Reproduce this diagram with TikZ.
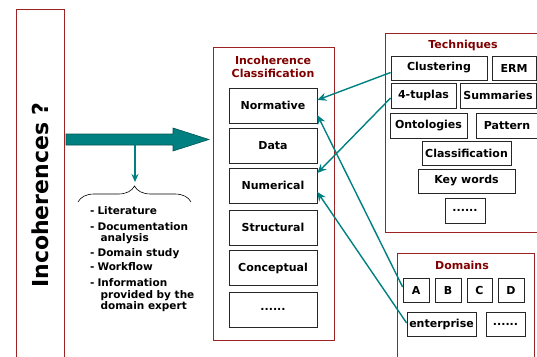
\documentclass[tikz,border=0pt]{standalone}
\usepackage{fontspec}
\setmainfont{DejaVu Sans}
\usetikzlibrary{decorations.pathreplacing,arrows.meta,calc}
\definecolor{framered}{RGB}{155,35,35}
\definecolor{titlered}{RGB}{128,0,0}
\definecolor{tealc}{RGB}{0,128,128}
\definecolor{tealdark}{RGB}{0,85,85}
\begin{document}
\begin{tikzpicture}[x=1pt,y=-1pt,
  frame/.style={draw=framered, line width=1pt, inner sep=0pt},
  box/.style={draw=black!85, line width=0.75pt, inner sep=0pt, font=\bfseries\fontsize{11}{13}\selectfont},
  ttl/.style={text=titlered, font=\bfseries\fontsize{11}{13}\selectfont, align=center, inner sep=0pt},
  conn/.style={tealc, line width=1.4pt, -{Stealth[length=9pt,width=8pt]}}]
\useasboundingbox (0,0) rectangle (537,356);
\clip (0,0) rectangle (537,356);

% left box
\node[frame, minimum width=48pt, minimum height=380pt, anchor=north west] (leftbox) at (16,9) {};
\node[rotate=90, font=\bfseries\fontsize{22}{26}\selectfont, inner sep=0pt] (incq) at (40,195) {Incoherences ?};

% big arrow
\coordinate (bigtail) at (66,139.5);
\coordinate (bigtip) at (209,139.5);
\draw[draw=tealdark, fill=tealc, line width=0.6pt]
  ([yshift=5.5pt]bigtail) -- ++(107,0) -- ++(0,-6) -- (bigtip) -- ++(-36,11.5) -- ++(0,-6) -- ([yshift=-5.5pt]bigtail) -- cycle;
\coordinate (arrowfoot) at (135,145);
\coordinate (bracetip) at (135,182);
\draw[tealc, line width=1.4pt, -{Stealth[length=8pt,width=7pt]}] (arrowfoot) -- (bracetip);

% brace and sources
\draw[decorate, decoration={brace, amplitude=16pt}, line width=0.6pt] (78,202) -- (191,202);
\node[anchor=base west, font=\bfseries\fontsize{10.5}{11}\selectfont, inner sep=0pt] (sources) at (90,214.5)
 {\begin{tabular}[t]{@{}l@{\hspace{3pt}}l@{}}
  -&Literature\\[4.5pt]
  -&Documentation\\
   &\hspace{3pt}analysis\\[4pt]
  -&Domain study\\[2.5pt]
  -&Workflow\\[5pt]
  -&Information\\
   &\hspace{3pt}provided by the\\
   &\hspace{3pt}domain expert
 \end{tabular}};

% classification
\node[frame, minimum width=121pt, minimum height=293pt, anchor=north west] (classframe) at (212.5,47) {};
\node[ttl] (classtitle) at (273,67) {Incoherence\\Classification};
\node[box, minimum width=88pt, minimum height=35pt] (normative) at (273,105.5) {Normative};
\node[box, minimum width=88pt, minimum height=35pt] (data) at (273,145.5) {Data};
\node[box, minimum width=88pt, minimum height=35pt] (numerical) at (273,185.5) {Numerical};
\node[box, minimum width=88pt, minimum height=35pt] (structural) at (273,227.5) {Structural};
\node[box, minimum width=88pt, minimum height=35pt] (conceptual) at (273,268) {Conceptual};
\node[box, minimum width=88pt, minimum height=35pt] (cdots) at (273,309.5) {......};

% techniques
\node[frame, minimum width=170pt, minimum height=199pt, anchor=north west] (techframe) at (385,33) {};
\node[ttl] (techtitle) at (463,45) {Techniques};
\node[box, minimum width=96pt, minimum height=24pt] (clustering) at (439,68) {Clustering};
\node[box, minimum width=44pt, minimum height=24pt] (erm) at (514,68) {ERM};
\node[box, minimum width=65pt, minimum height=25pt] (tuplas) at (423.5,95.5) {4-tuplas};
\node[box, minimum width=76pt, minimum height=25pt] (summaries) at (498,95.5) {Summaries};
\node[box, minimum width=77pt, minimum height=25pt] (ontologies) at (428.5,125.5) {Ontologies};
\node[box, minimum width=62pt, minimum height=25pt] (pattern) at (507,125.5) {Pattern};
\node[box, minimum width=89pt, minimum height=24pt] (classif) at (466.5,153) {Classification};
\node[box, minimum width=97pt, minimum height=24pt] (keywords) at (466.5,181) {Key words};
\node[box, minimum width=40pt, minimum height=25pt] (tdots) at (465,210.5) {......};

% domains
\node[frame, minimum width=137.5pt, minimum height=130pt, anchor=north west] (domframe) at (396.5,252.5) {};
\node[ttl] (domtitle) at (462,265) {Domains};
\node[box, minimum width=26pt, minimum height=24pt] (doma) at (416,290) {A};
\node[box, minimum width=26pt, minimum height=24pt] (domb) at (448,290) {B};
\node[box, minimum width=25pt, minimum height=24pt] (domc) at (479.5,290) {C};
\node[box, minimum width=26pt, minimum height=24pt] (domd) at (511,290) {D};
\node[box, minimum width=69pt, minimum height=24pt] (enterprise) at (441.5,324) {enterprise};
\node[box, minimum width=39pt, minimum height=24pt] (ddots) at (505.5,324) {......};

% connectors
\draw[conn] ([yshift=-4.5pt]clustering.west) -- ([yshift=5.5pt]normative.east);
\draw[conn] ([yshift=-2.5pt]tuplas.west) -- ([yshift=12.5pt]numerical.east);
\draw[conn] ([yshift=3pt]doma.west) -- ([yshift=-9.5pt]normative.east);
\draw[conn] ([yshift=1pt]enterprise.west) -- ([yshift=-6.5pt]numerical.east);
\end{tikzpicture}
\end{document}
